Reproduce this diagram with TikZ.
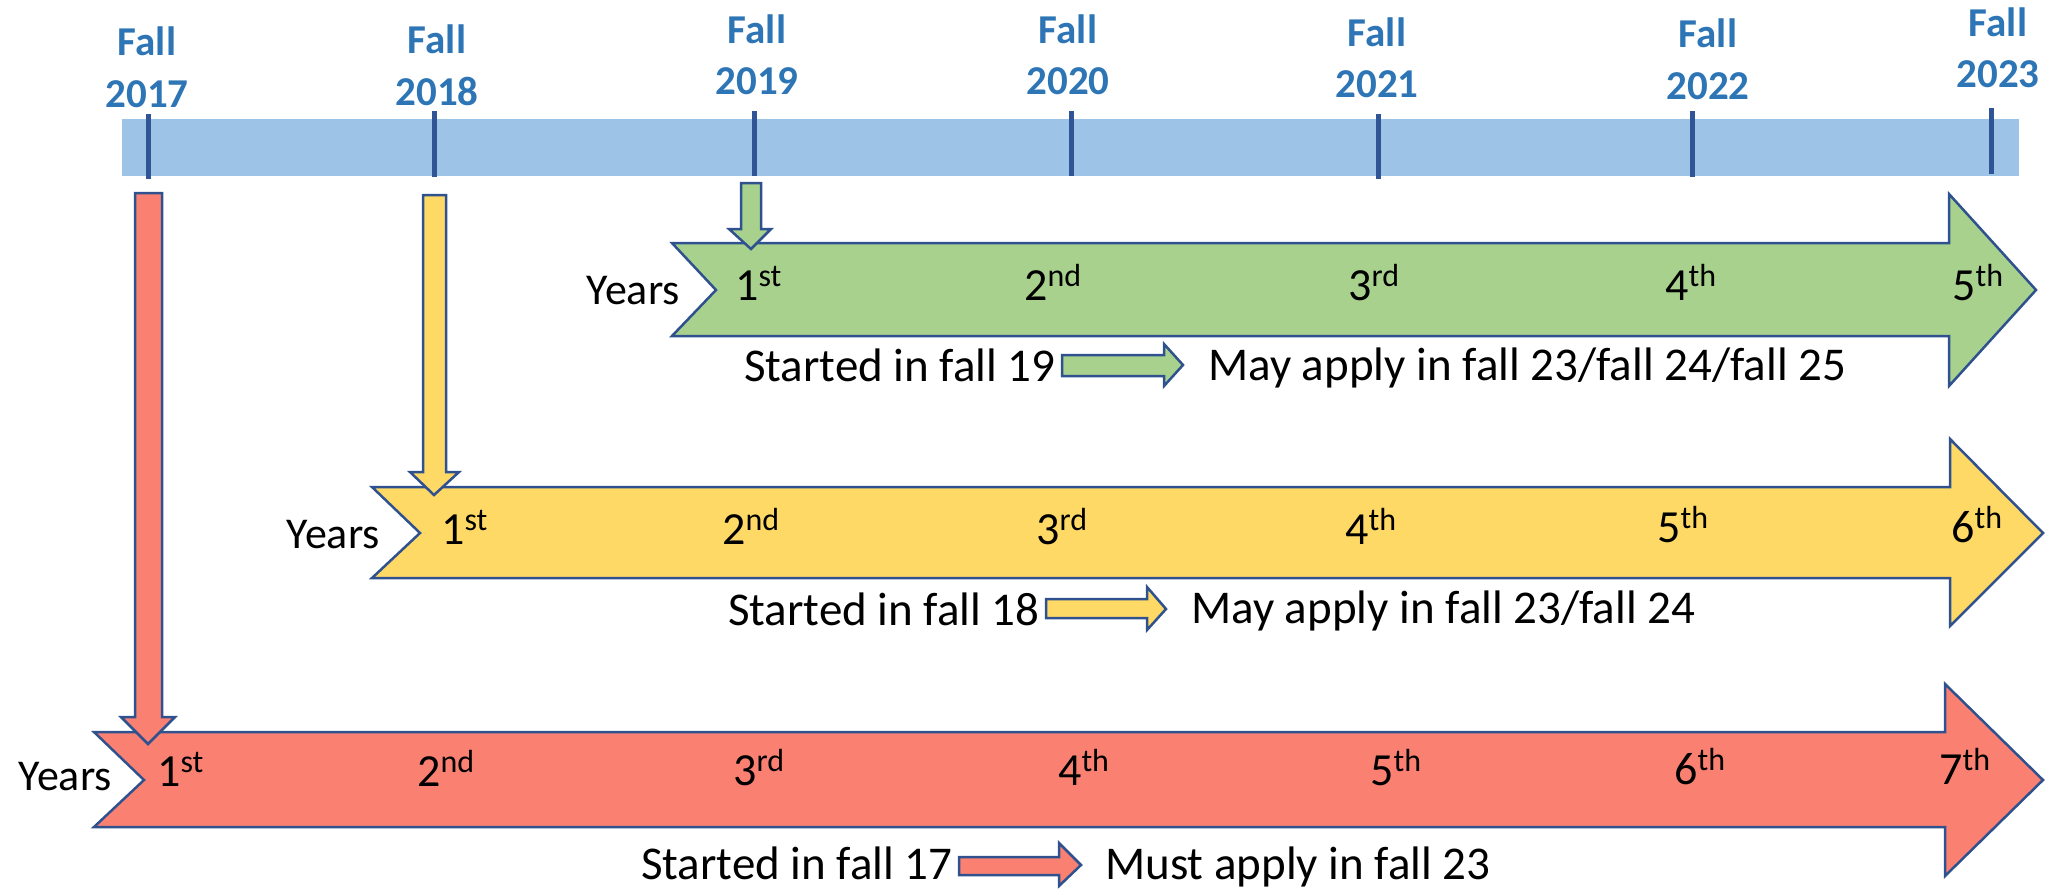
\documentclass[tikz,border=0pt]{standalone}
\usepackage{fontspec}
\setmainfont{Carlito}
\definecolor{barblue}{HTML}{9DC3E6}
\definecolor{tickblue}{HTML}{2F5597}
\definecolor{outlblue}{HTML}{2F528F}
\definecolor{falltxt}{HTML}{2E75B6}
\definecolor{grfill}{HTML}{A9D18E}
\definecolor{yefill}{HTML}{FFD966}
\definecolor{rdfill}{HTML}{FA8072}
\newcommand\ordsup[1]{\raisebox{14pt}{\fontsize{32}{32}\selectfont #1}}
\tikzset{
  outl/.style={draw=outlblue, line width=2.5pt, line join=miter},
  falllbl/.style={font=\fontsize{41}{41}\selectfont\bfseries, text=falltxt, inner sep=0pt, anchor=base},
  ticklbl/.style={draw=tickblue, line width=5pt},
  ordtxt/.style={font=\fontsize{46}{46}\selectfont, inner sep=0pt, anchor=base west},
  yrstxt/.style={font=\fontsize{44}{44}\selectfont, inner sep=0pt, anchor=base east},
  bottxt/.style={font=\fontsize{47}{47}\selectfont, inner sep=0pt, anchor=base west}
}
\begin{document}
\begin{tikzpicture}[x=1pt,y=-1pt]
\useasboundingbox (0,0) rectangle (2055,889);
% timeline bar
\fill[barblue] (122,119) rectangle (2019,176);
\foreach \n/\lx/\fy/\yy/\tx/\ta/\tb in {2017/147/55/107/148/114/179, 2018/437/53/105/434/111/177, 2019/757/43/94/754/111/176, 2020/1068/43/94/1071/111/176, 2021/1377/46/97/1378/114/179, 2022/1708/47/99/1692/111/177, 2023/1998/36/87/1991/108/174}{
  \node[falllbl] (fall\n) at (\lx,\fy) {Fall};
  \node[falllbl] (year\n) at (\lx,\yy) {\n};
  \draw[ticklbl] (\tx,\ta) -- (\tx,\tb);
}
% big arrows
\draw[outl, fill=grfill] (672,243) -- (1949,243) -- (1949,194) -- (2036,290) -- (1949,386) -- (1949,336) -- (672,336) -- (716,290) -- cycle;
\draw[outl, fill=yefill] (372,487) -- (1950,487) -- (1950,439) -- (2043,533) -- (1950,626) -- (1950,578) -- (372,578) -- (420,533) -- cycle;
\draw[outl, fill=rdfill] (94,732) -- (1945,732) -- (1945,684) -- (2043,780) -- (1945,876) -- (1945,827) -- (94,827) -- (144,780) -- cycle;
% down arrows
\draw[outl, fill=rdfill] (135,193) -- (162,193) -- (162,717) -- (175,717) -- (148,744) -- (121,717) -- (135,717) -- cycle;
\draw[outl, fill=yefill] (423,195) -- (446,195) -- (446,472) -- (459,472) -- (434,495) -- (410,472) -- (423,472) -- cycle;
\draw[outl, fill=grfill] (741,183) -- (761,183) -- (761,229) -- (771,229) -- (751,249) -- (729,229) -- (741,229) -- cycle;
% small arrows
\draw[outl, fill=grfill] (1062,355) -- (1164,355) -- (1164,344) -- (1183,365) -- (1164,386) -- (1164,376) -- (1062,376) -- cycle;
\draw[outl, fill=yefill] (1046,599) -- (1147,599) -- (1147,587) -- (1166,609) -- (1147,630) -- (1147,618) -- (1046,618) -- cycle;
\draw[outl, fill=rdfill] (959,857) -- (1059,857) -- (1059,843) -- (1081,865) -- (1059,886) -- (1059,875) -- (959,875) -- cycle;
% Years labels
\node[yrstxt] (yearsG) at (680,304) {Years};
\node[yrstxt] (yearsY) at (380,548) {Years};
\node[yrstxt] (yearsR) at (112,790) {Years};
% green ordinals
\node[ordtxt] (g1) at (735,300) {1\ordsup{st}};
\node[ordtxt] (g2) at (1024,300) {2\ordsup{nd}};
\node[ordtxt] (g3) at (1348,300) {3\ordsup{rd}};
\node[ordtxt] (g4) at (1665,300) {4\ordsup{th}};
\node[ordtxt] (g5) at (1952,300) {5\ordsup{th}};
% yellow ordinals
\node[ordtxt] (y1) at (441,544) {1\ordsup{st}};
\node[ordtxt] (y2) at (722,544) {2\ordsup{nd}};
\node[ordtxt] (y3) at (1036,544) {3\ordsup{rd}};
\node[ordtxt] (y4) at (1345,544) {4\ordsup{th}};
\node[ordtxt] (y5) at (1657,542) {5\ordsup{th}};
\node[ordtxt] (y6) at (1951,542) {6\ordsup{th}};
% red ordinals
\node[ordtxt] (r1) at (157,786) {1\ordsup{st}};
\node[ordtxt] (r2) at (417,786) {2\ordsup{nd}};
\node[ordtxt] (r3) at (733,785) {3\ordsup{rd}};
\node[ordtxt] (r4) at (1058,785) {4\ordsup{th}};
\node[ordtxt] (r5) at (1370,785) {5\ordsup{th}};
\node[ordtxt] (r6) at (1674,784) {6\ordsup{th}};
\node[ordtxt] (r7) at (1939,784) {7\ordsup{th}};
% bottom texts
\node[bottxt] (sG) at (744,381) {Started in fall 19};
\node[bottxt] (mG) at (1208,380) {May apply in fall 23/fall 24/fall 25};
\node[bottxt] (sY) at (728,625) {Started in fall 18};
\node[bottxt] (mY) at (1191,623) {May apply in fall 23/fall 24};
\node[bottxt] (sR) at (641,879) {Started in fall 17};
\node[bottxt] (mR) at (1105,879) {Must apply in fall 23};
\end{tikzpicture}
\end{document}
